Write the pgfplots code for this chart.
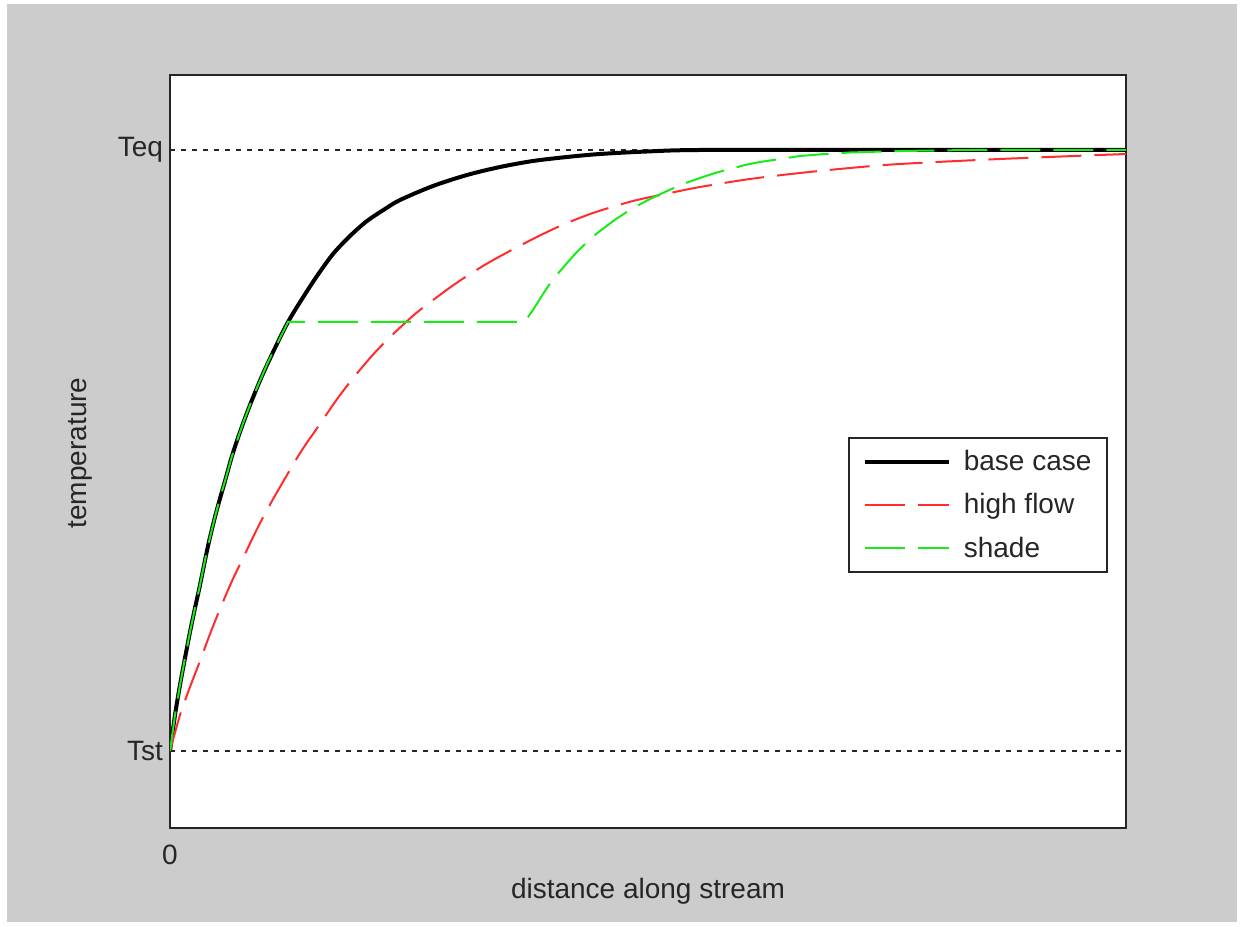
\documentclass[border=0pt]{standalone}
\usepackage{pgfplots}
\pgfplotsset{compat=1.18}
\usepackage{fontspec}
\setmainfont{Liberation Sans}
\definecolor{bg}{RGB}{204,204,204}
\definecolor{hiflow}{RGB}{255,45,45}
\definecolor{shadegreen}{RGB}{25,235,25}
\definecolor{frame}{RGB}{38,38,38}
\begin{document}
\begin{tikzpicture}[x=1pt,y=1pt]
\fill[white] (0,0) rectangle (620.5,463);
\fill[bg] (3.5,2) rectangle (618.5,461);
\begin{axis}[
  at={(85pt,49pt)}, anchor=south west,
  scale only axis, width=478pt, height=376.5pt,
  xmin=0, xmax=956, ymin=-77, ymax=676,
  axis background/.style={fill=white},
  axis line style={frame, line width=1pt},
  xtick={0}, xticklabels={0},
  ytick={0,601}, yticklabels={Tst,Teq},
  major tick length=0pt,
  ymajorgrids,
  grid style={black!85, dash pattern=on 2.5pt off 3pt, line width=0.7pt},
  tick label style={font=\fontsize{14}{16}\selectfont, text=black!85},
  xticklabel style={yshift=-5pt},
  xlabel={distance along stream}, ylabel={temperature},
  label style={font=\fontsize{14}{16}\selectfont, text=black!85},
  xlabel style={at={(axis description cs:0.5,0)}, anchor=center, yshift=-31.5pt},
  ylabel style={at={(axis description cs:-0.0942,0.498)}, anchor=center},
  legend image code/.code={\draw[#1] (1pt,0pt) -- (43pt,0pt); \path (0pt,0pt) (47.5pt,0pt);},
  legend cell align=left,
  legend style={at={(rel axis cs:0.709,0.519)}, anchor=north west,
    draw=frame, line width=1pt, fill=white,
    font=\fontsize{14}{16}\selectfont, text=black!85,
    inner xsep=6pt, inner ysep=4pt, row sep=6pt},
]
% base case
\addplot[black, line width=2pt, smooth, tension=0.5] coordinates {
  (0,0) (5,36) (10,66) (15,93) (20,119) (25,143) (30,166) (38,205)
  (46,238) (55,270) (62,295) (70,319) (80,346) (92,375) (105,403)
  (118,429) (132,452) (147,475) (163,497) (180,515) (197,530) (215,542)
  (230,551) (263,565) (297,576) (330,584) (363,590) (397,594) (430,597)
  (477,599.5) (530,601) (700,601) (956,601)
};
\addlegendentry{base case}
% high flow
\addplot[hiflow, line width=1pt, dash pattern=on 20pt off 6.5pt, smooth, tension=0.5] coordinates {
  (0,0) (10,36) (20,64) (30,90) (40,117) (50,142) (62,170) (75,197)
  (88,224) (102,250) (117,276) (132,301) (150,327) (165,349) (180,369)
  (200,393) (217,411) (235,428) (250,441) (285,467) (318,488) (357,509)
  (390,525) (423,538) (463,550) (500,558) (530,564) (580,572) (630,578)
  (680,583) (730,587) (830,592) (956,597)
};
\addlegendentry{high flow}
% shade
\addplot[shadegreen, line width=1pt, dash pattern=on 20pt off 6.5pt] coordinates {
  (0,0) (5,36) (10,66) (15,93) (20,119) (25,143) (30,166) (34,186)
  (38,205) (42,222) (46,238) (50,253) (55,270) (62,295) (70,319) (75,333)
  (80,346) (86,361) (92,375) (98,389) (105,403) (112,417) (118,429)
  (353,429) (358,434) (363,441) (368,449) (373,457) (379,466) (385,474)
  (391,481) (397,488) (405,497) (413,505) (421,513) (430,520) (446,532)
  (463,543) (480,552) (497,560) (513,567) (530,573) (545,578) (560,582)
  (575,586) (590,589) (610,592) (630,595) (655,597) (680,598.5) (730,600)
  (800,601) (956,601)
};
\addlegendentry{shade}
\end{axis}
\end{tikzpicture}
\end{document}
